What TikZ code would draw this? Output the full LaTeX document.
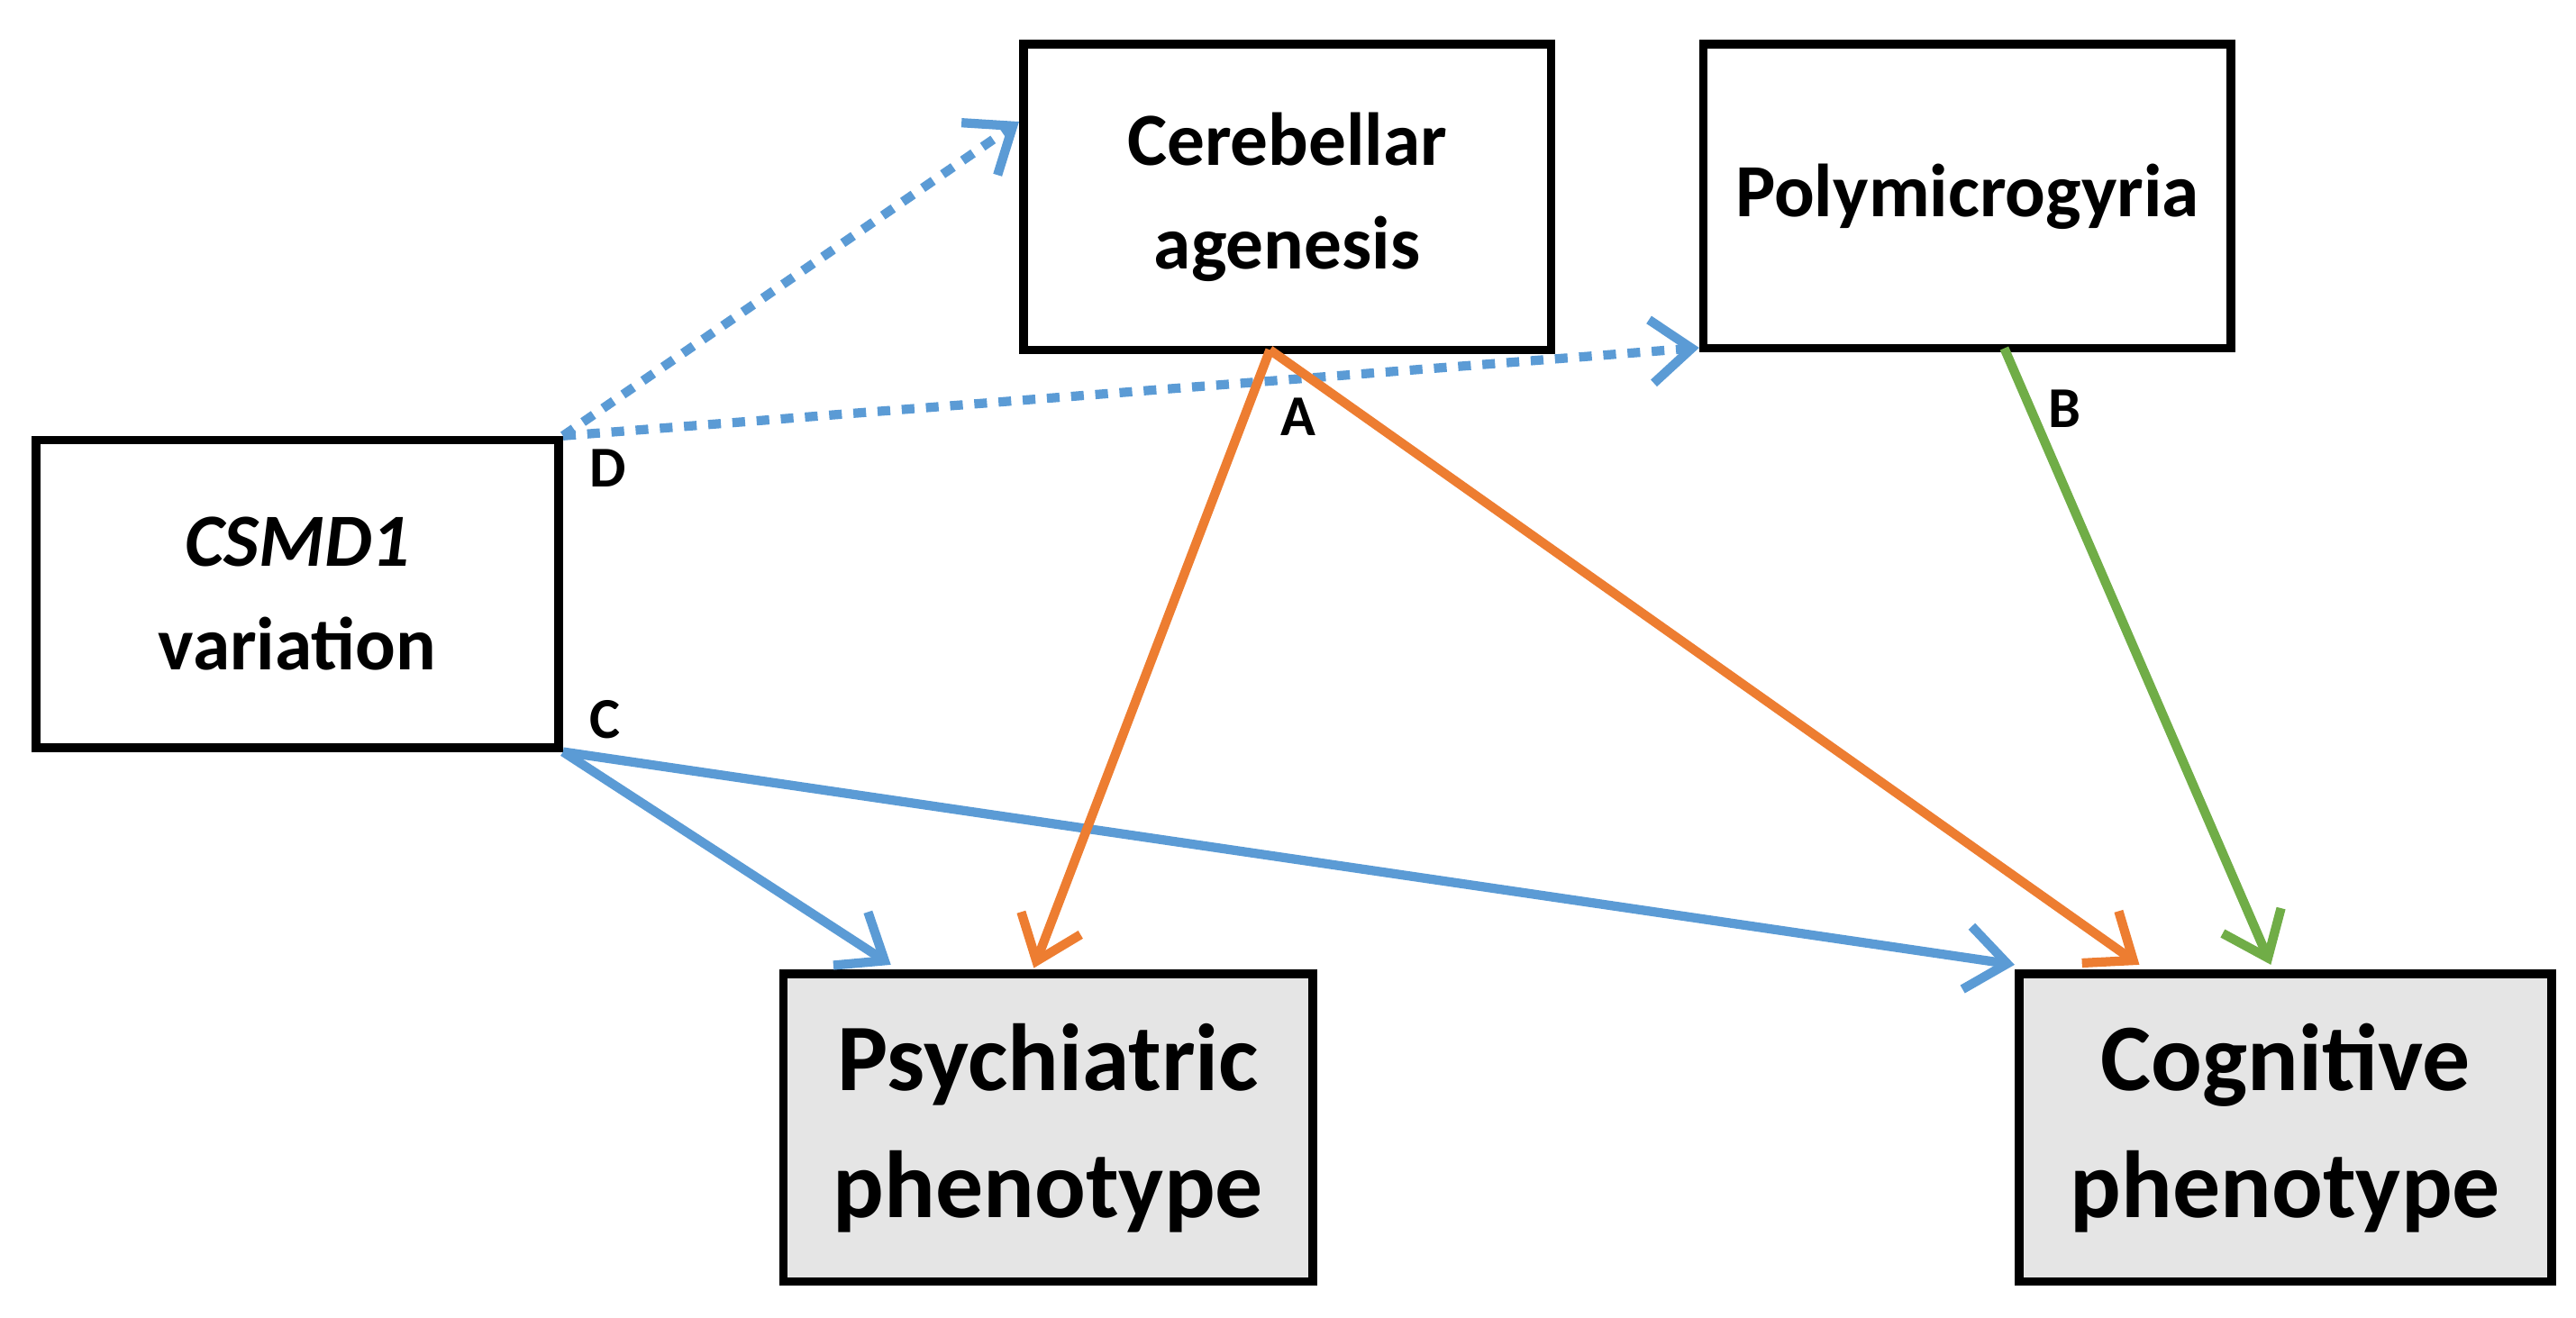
\documentclass[tikz,border=0pt]{standalone}
\usepackage{fontspec}
\setmainfont{Carlito}
\usetikzlibrary{arrows.meta,calc}
\begin{document}
\begin{tikzpicture}[x=0.01cm,y=-0.01cm,
 box/.style={draw,line width=1.5pt,inner sep=0pt,align=center,font=\bfseries\fontsize{13}{18}\selectfont},
 outbox/.style={box,fill=gray!20,font=\bfseries\fontsize{16.5}{22}\selectfont},
 arr/.style={line width=1.6pt,-{Straight Barb[length=7pt,width=11pt,line width=1.6pt]}},
 dot/.style={arr,dash pattern=on 2.2pt off 2pt},
 lab/.style={font=\bfseries\fontsize{10}{11}\selectfont}]
\definecolor{bl}{HTML}{5B9BD5}
\definecolor{or}{HTML}{ED7D31}
\definecolor{gr}{HTML}{70AD47}
\useasboundingbox (0,0) rectangle (1568,802);
\node[box,minimum width=3.18cm,minimum height=1.87cm] (cs) at (181,361.5) {\textit{CSMD1}\\variation};
\node[box,minimum width=3.21cm,minimum height=1.86cm] (ce) at (783.5,120) {Cerebellar\\agenesis};
\node[box,minimum width=3.21cm,minimum height=1.85cm] (po) at (1197.5,119.5) {Polymicrogyria};
\node[outbox,minimum width=3.22cm,minimum height=1.87cm] (ps) at (638,686.5) {Psychiatric\\phenotype};
\node[outbox,minimum width=3.24cm,minimum height=1.87cm] (co) at (1391,686.5) {Cogni\kern0pt tive\\phenotype};
\coordinate (ceA) at (773,213);
\coordinate (poB) at (1220,212);
\draw[dot,bl] (cs.north east) -- ($(ce.north west)!0.26!(ce.south west)$);
\draw[dot,bl] (cs.north east) -- ($(po.south west)+(0,-3)$);
\draw[arr,bl] (cs.south east) -- ($(ps.north west)+(68,-3)$);
\draw[arr,bl] (cs.south east) -- ($(co.north west)+(0,-3)$);
\draw[arr,or] (ceA) -- ($(ps.north west)+(155,-1)$);
\draw[arr,or] (ceA) -- ($(co.north west)+(76,-3)$);
\draw[arr,gr] (poB) -- ($(co.north west)+(156,-3)$);
\node[lab] (D) at (370,285) {D};
\node[lab] (C) at (368,438) {C};
\node[lab] (A) at (790,254) {A};
\node[lab] (B) at (1257,249) {B};
\end{tikzpicture}
\end{document}
